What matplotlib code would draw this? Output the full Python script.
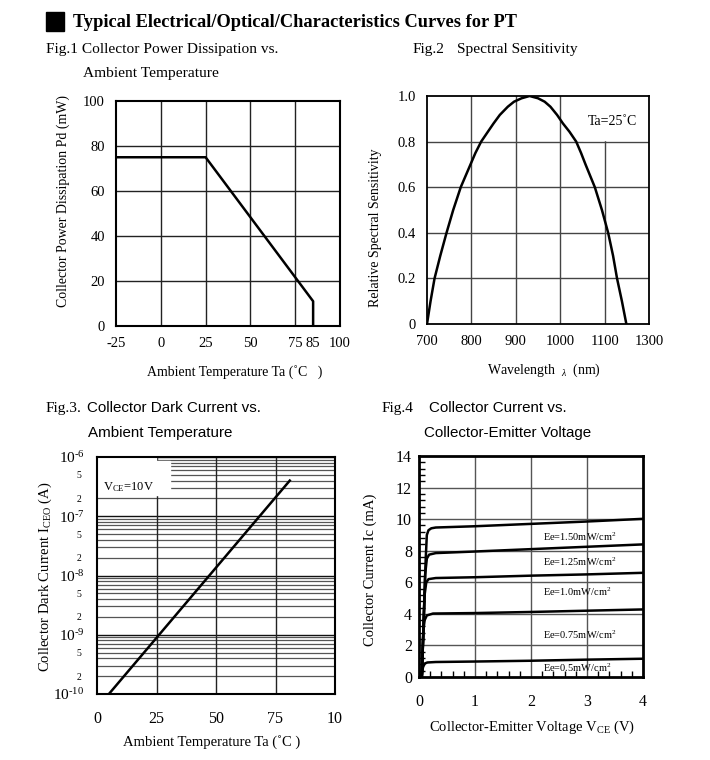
import math
import matplotlib
matplotlib.use("Agg")
from matplotlib import pyplot as plt
from matplotlib.patches import Rectangle
from matplotlib.ticker import FixedLocator, MultipleLocator, LogLocator, FuncFormatter

plt.rcParams['font.family'] = ['Liberation Serif', 'DejaVu Serif']
plt.rcParams['mathtext.fontset'] = 'custom'
plt.rcParams['mathtext.rm'] = 'Liberation Serif'
plt.rcParams['mathtext.it'] = 'Liberation Serif:italic'
plt.rcParams['mathtext.bf'] = 'Liberation Serif:bold'
plt.rcParams['axes.unicode_minus'] = False

# Fig.1 power derating
pd_temp = [-25, 25, 85, 85]
pd_power = [75, 75, 11, 0]
pd_xticks = [-25, 0, 25, 50, 75, 85, 100]

# Fig.2 spectral sensitivity
wavelength = [700, 708, 717, 730, 744, 759, 776, 798, 809, 822, 837, 850, 864, 882, 896,
              913, 931, 950, 965, 978, 993, 1006, 1021, 1036, 1047, 1057, 1078, 1094,
              1108, 1119, 1128, 1139, 1149]
rel_sens = [0, 0.1, 0.2, 0.3, 0.4, 0.5, 0.6, 0.7, 0.75, 0.8, 0.843, 0.88, 0.917, 0.953, 0.975,
            0.99, 1.0, 0.99, 0.975, 0.953, 0.917, 0.88, 0.843, 0.8, 0.75, 0.7, 0.6, 0.5,
            0.4, 0.3, 0.2, 0.1, 0]
wl_ticks = [700, 800, 900, 1000, 1100, 1200]
wl_labels = ['700', '800', '900', '1000', '1100', '1300']

# Fig.3 dark current
dark_temp = [5, 81]
dark_current = [1e-10, 4e-7]
dark_xlabels = ['0', '25', '50', '75', '10']

# Fig.4 Ic vs Vce
ee_labels = ['1.50', '1.25', '1.0', '0.75', '0.5']
vce = [
    [0.05, 0.12, 0.14, 0.17, 0.22, 0.3, 1.0, 2.0, 3.0, 4.0],
    [0.05, 0.11, 0.14, 0.18, 0.3, 1.0, 2.0, 3.0, 4.0],
    [0.05, 0.1, 0.13, 0.17, 0.3, 1.0, 2.0, 3.0, 4.0],
    [0.05, 0.08, 0.1, 0.14, 0.25, 1.0, 2.0, 3.0, 4.0],
    [0.05, 0.07, 0.1, 0.15, 0.3, 1.0, 2.0, 3.0, 4.05],
]
ic = [
    [0, 7.5, 9.0, 9.3, 9.42, 9.47, 9.55, 9.7, 9.85, 10.02],
    [0, 6.5, 7.5, 7.75, 7.85, 7.95, 8.1, 8.25, 8.4],
    [0, 5.2, 6.0, 6.2, 6.27, 6.32, 6.42, 6.5, 6.6],
    [0, 3.0, 3.6, 3.9, 4.02, 4.05, 4.12, 4.2, 4.28],
    [0, 0.6, 0.85, 0.92, 0.95, 0.98, 1.03, 1.1, 1.16],
]
ee_label_y = [8.9, 7.3, 5.4, 2.7, 0.6]

W, H = 710, 760


def fx(x):
    return x / W


def fy(y):
    return 1 - y / H


def rect(l, t, r, b):
    return [l / W, 1 - b / H, (r - l) / W, (b - t) / H]


def frame(ax, lw):
    for s in ax.spines.values():
        s.set_linewidth(lw)
        s.set_color('black')


fig = plt.figure(figsize=(W / 100, H / 100), dpi=100)

# header and figure titles
fig.patches.append(Rectangle((fx(46), fy(31)), 18 / W, 19 / H, color='black',
                             transform=fig.transFigure, figure=fig))
fig.text(fx(73), fy(27), "Typical Electrical/Optical/Characteristics Curves for PT",
         fontsize=13.2, fontweight='bold', va='baseline')
fig.text(fx(46), fy(53), "Fig.1 Collector Power Dissipation vs.", fontsize=11.1, va='baseline')
fig.text(fx(83), fy(77), "Ambient Temperature", fontsize=11.1, va='baseline')
fig.text(fx(413), fy(53), "Fig.2", fontsize=11.1, va='baseline')
fig.text(fx(457), fy(53), "Spectral Sensitivity", fontsize=11.1, va='baseline')
fig.text(fx(46), fy(412), "Fig.3.", fontsize=11.1, va='baseline')
fig.text(fx(87), fy(412), "Collector Dark Current vs.", fontsize=10.9, va='baseline',
         family='Liberation Sans')
fig.text(fx(88), fy(437), "Ambient Temperature", fontsize=10.9, va='baseline',
         family='Liberation Sans')
fig.text(fx(382), fy(412), "Fig.4", fontsize=11.1, va='baseline')
fig.text(fx(429), fy(412), "Collector Current vs.", fontsize=10.9, va='baseline',
         family='Liberation Sans')
fig.text(fx(424), fy(437), "Collector-Emitter Voltage", fontsize=10.9, va='baseline',
         family='Liberation Sans')

# ---- Fig.1
ax1 = fig.add_axes(rect(116, 101, 340, 326))
for v in [0, 25, 50, 75]:
    ax1.axvline(v, color='#222222', lw=1.0, zorder=1)
for h in [20, 40, 60, 80]:
    ax1.axhline(h, color='#222222', lw=1.0, zorder=1)
ax1.plot(pd_temp, pd_power, color='black', lw=1.8, zorder=3)
ax1.set_xlim(-25, 100)
ax1.set_ylim(0, 100)
ax1.set_xticks(pd_xticks)
ax1.set_yticks([0, 20, 40, 60, 80, 100])
ax1.tick_params(length=0, labelsize=10.5, pad=8)
frame(ax1, 1.5)
fig.text(fx(235), fy(372), "Ambient Temperature Ta (˚C   )", fontsize=10,
         ha='center', va='center')
fig.text(fx(63), fy(201), "Collector Power Dissipation Pd (mW)", fontsize=10,
         ha='center', va='center', rotation=90)

# ---- Fig.2
ax2 = fig.add_axes(rect(427, 96, 649, 324))
for v in [800, 900, 1000, 1100]:
    ax2.axvline(v, color='#444444', lw=1.0, zorder=1)
for h in [0.2, 0.4, 0.6, 0.8]:
    ax2.axhline(h, color='#444444', lw=1.0, zorder=1)
ax2.add_patch(Rectangle((1052, 0.806), 148, 0.194, color='white', zorder=1.5))
ax2.plot(wavelength, rel_sens, color='black', lw=1.8, zorder=3, solid_joinstyle='round')
ax2.text(1117, 0.886, "Ta=25˚C", fontsize=10, ha='center', va='center', zorder=4)
ax2.set_xlim(700, 1200)
ax2.set_ylim(0, 1.0)
ax2.set_xticks(wl_ticks)
ax2.set_xticklabels(wl_labels)
ax2.set_yticks([0, 0.2, 0.4, 0.6, 0.8, 1.0])
ax2.set_yticklabels(['0', '0.2', '0.4', '0.6', '0.8', '1.0'])
ax2.tick_params(length=0, labelsize=10.5, pad=8)
frame(ax2, 1.3)
fig.text(fx(544), fy(370), r"Wavelength  $_{\lambda}$  (nm)", fontsize=10,
         ha='center', va='center')
fig.text(fx(375), fy(228), "Relative Spectral Sensitivity", fontsize=10,
         ha='center', va='center', rotation=90)

# ---- Fig.3
ax3 = fig.add_axes(rect(97, 457, 335, 694))
ax3.set_yscale('log')
ax3.set_xlim(0, 100)
ax3.set_ylim(1e-10, 1e-6)
ax3.set_axisbelow(True)
ax3.yaxis.set_major_locator(FixedLocator([1e-10, 1e-9, 1e-8, 1e-7, 1e-6]))
ax3.yaxis.set_major_formatter(
    FuncFormatter(lambda v, p: r"$10^{\text{-%d}}$" % -round(math.log10(v))))
ax3.yaxis.set_minor_locator(LogLocator(base=10, subs=range(2, 10), numticks=20))


def minor_lab(v, p):
    m = v / 10 ** math.floor(math.log10(v) + 1e-9)
    r = round(m)
    return str(r) if r in (2, 5) and abs(m - r) < 0.01 else ''


ax3.yaxis.set_minor_formatter(FuncFormatter(minor_lab))
ax3.grid(True, which='major', axis='y', color='#111111', lw=1.0)
ax3.grid(True, which='minor', axis='y', color='#555555', lw=0.9)
for v in [25, 50, 75]:
    ax3.axvline(v, color='#222222', lw=1.0, zorder=0.6)
ax3.add_patch(Rectangle((0, 8.5e-7), 24.6, 1.5e-7, color='white', zorder=1))
ax3.add_patch(Rectangle((0, 2.25e-7), 30.7, 6.3e-7, color='white', zorder=1))
ax3.plot(dark_temp, dark_current, color='black', lw=1.8, zorder=3)
ax3.text(2.5, 3.1e-7, r"V$_{\mathrm{CE}}$=10V", fontsize=9, ha='left', va='center', zorder=4)
ax3.set_xticks([0, 25, 50, 75, 100])
ax3.set_xticklabels(dark_xlabels)
ax3.tick_params(which='both', length=0)
ax3.tick_params(axis='x', labelsize=11.5, pad=12)
ax3.tick_params(axis='y', which='major', labelsize=11, pad=9)
ax3.tick_params(axis='y', which='minor', labelsize=7, pad=11)
frame(ax3, 1.5)
fig.text(fx(212), fy(742), "Ambient Temperature Ta (˚C )", fontsize=10.5,
         ha='center', va='center')
fig.text(fx(45), fy(577), r"Collector Dark Current I$_{\mathrm{CEO}}$ (A)", fontsize=10.5,
         ha='center', va='center', rotation=90)

# ---- Fig.4
ax4 = fig.add_axes(rect(419, 456, 643, 677))
for v in [1, 2, 3]:
    ax4.axvline(v, color='#555555', lw=1.0, zorder=1)
for h in [2, 4, 6, 8, 10, 12]:
    ax4.axhline(h, color='#555555', lw=1.0, zorder=1)
for vs, cur, lab, ly in zip(vce, ic, ee_labels, ee_label_y):
    ax4.plot(vs, cur, color='black', lw=1.8, zorder=3, solid_joinstyle='round')
    ax4.text(2.21, ly, r"Ee=%smW/cm$^{2}$" % lab, fontsize=7.5, ha='left', va='center',
             zorder=4)
ax4.set_xlim(0, 4)
ax4.set_ylim(0, 14)
ax4.set_xticks([0, 1, 2, 3, 4])
ax4.set_yticks(range(0, 15, 2))
ax4.xaxis.set_minor_locator(MultipleLocator(0.2))
ax4.yaxis.set_minor_locator(MultipleLocator(0.4))
ax4.tick_params(which='major', length=0)
ax4.tick_params(which='minor', direction='in', length=4, width=1.0)
ax4.tick_params(axis='x', labelsize=11.5, pad=12)
ax4.tick_params(axis='y', labelsize=11.5, pad=5)
frame(ax4, 2.0)
fig.text(fx(532), fy(727), r"Collector-Emitter Voltage V$_{\mathrm{CE}}$ (V)", fontsize=10.5,
         ha='center', va='center')
fig.text(fx(370), fy(570), "Collector Current Ic (mA)", fontsize=10.5,
         ha='center', va='center', rotation=90)

fig.savefig("out.png", dpi=100, facecolor='white')
